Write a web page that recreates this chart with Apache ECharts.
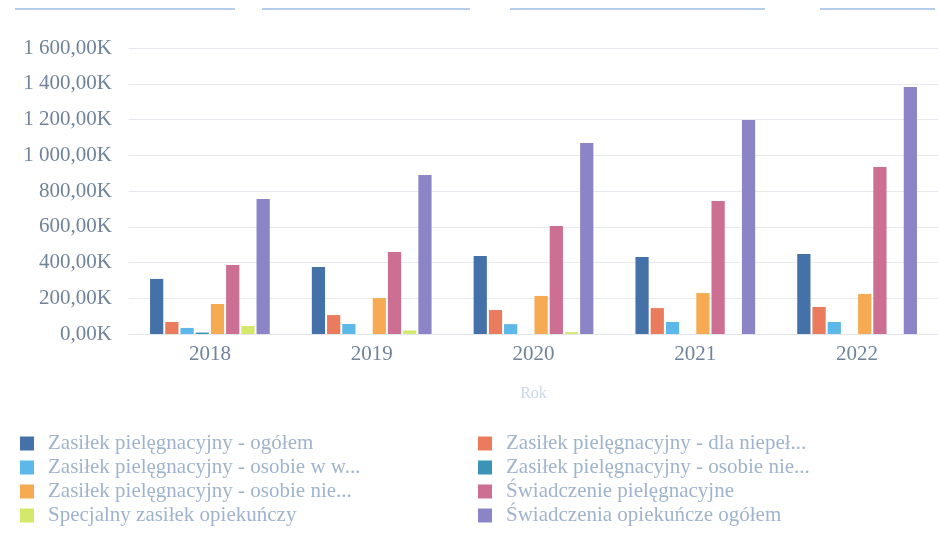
<!DOCTYPE html>
<html>
<head>
<meta charset="utf-8">
<script src="https://cdn.jsdelivr.net/npm/echarts@6/dist/echarts.min.js"></script>
<style>
  html, body { margin: 0; padding: 0; background: #fff; }
  #main { width: 938px; height: 548px; }
</style>
</head>
<body>
<div id="main"></div>
<script>
// lata
var years = ['2018', '2019', '2020', '2021', '2022'];

// nazwy serii (wartości w tysiącach)
var seriesNames = [
  'Zasiłek pielęgnacyjny - ogółem',
  'Zasiłek pielęgnacyjny - dla niepełnosprawnego dziecka',
  'Zasiłek pielęgnacyjny - osobie w wieku 75 lat',
  'Zasiłek pielęgnacyjny - osobie niepełnosprawnej do 21 lat',
  'Zasiłek pielęgnacyjny - osobie niepełnosprawnej powyżej 16 lat',
  'Świadczenie pielęgnacyjne',
  'Specjalny zasiłek opiekuńczy',
  'Świadczenia opiekuńcze ogółem'
];

var zpOgolem      = [308, 375, 436, 431, 448];
var zpDziecko     = [67, 106, 134, 145, 151];
var zp75          = [34, 56, 55, 67, 67];
var zpDo21        = [8, 0, 0, 0, 0];
var zpPowyzej16   = [168, 201, 213, 229, 224];
var swiadPiel     = [386, 459, 604, 744, 934];
var specZasilek   = [45, 20, 10, 0, 0];
var swiadOgolem   = [755, 890, 1069, 1197, 1382];

var seriesData = [zpOgolem, zpDziecko, zp75, zpDo21, zpPowyzej16, swiadPiel, specZasilek, swiadOgolem];
var colors = ['#4472a8', '#ea7b5c', '#5bb8e8', '#3b93b8', '#f6aa52', '#cc6f93', '#d4e86a', '#8b84c6'];

var font = '"Liberation Serif", serif';

function fmtK(v) {
  var s = v.toFixed(2).replace('.', ',');
  var parts = s.split(',');
  parts[0] = parts[0].replace(/\B(?=(\d{3})+(?!\d))/g, ' ');
  return parts[0] + ',' + parts[1] + 'K';
}

function legendCol(left, names) {
  return {
    orient: 'vertical',
    left: left,
    top: 433,
    padding: 0,
    itemGap: 3,
    itemWidth: 14,
    itemHeight: 14,
    icon: 'rect',
    textStyle: {
      fontFamily: font,
      fontSize: 21,
      color: '#9fb4cc',
      padding: [0, 0, 0, 9]
    },
    formatter: function (name) {
      return name.length > 34 ? name.slice(0, 34) + '...' : name;
    },
    data: names
  };
}

var myChart = echarts.init(document.getElementById('main'));
var option = {
  backgroundColor: '#fff',
  color: colors,
  textStyle: { fontFamily: font },
  graphic: [
    { type: 'line', shape: { x1: 15, y1: 9, x2: 235, y2: 9 }, style: { stroke: '#b4cdea', lineWidth: 2 } },
    { type: 'line', shape: { x1: 262, y1: 9, x2: 470, y2: 9 }, style: { stroke: '#b4cdea', lineWidth: 2 } },
    { type: 'line', shape: { x1: 510, y1: 9, x2: 765, y2: 9 }, style: { stroke: '#b4cdea', lineWidth: 2 } },
    { type: 'line', shape: { x1: 820, y1: 9, x2: 935, y2: 9 }, style: { stroke: '#b4cdea', lineWidth: 2 } }
  ],
  grid: {
    left: 129,
    right: 0,
    top: 48,
    bottom: 214
  },
  legend: [
    legendCol(20, [seriesNames[0], seriesNames[2], seriesNames[4], seriesNames[6]]),
    legendCol(478, [seriesNames[1], seriesNames[3], seriesNames[5], seriesNames[7]])
  ],
  xAxis: {
    type: 'category',
    data: years,
    name: 'Rok',
    nameLocation: 'middle',
    nameGap: 52,
    nameTextStyle: { color: '#c9d8e8', fontSize: 16, fontFamily: font },
    axisTick: { show: false },
    axisLine: { lineStyle: { color: '#e3e7ec' } },
    axisLabel: { color: '#6f839b', fontSize: 21, fontFamily: font, margin: 10 }
  },
  yAxis: {
    type: 'value',
    min: 0,
    max: 1600,
    interval: 200,
    axisLabel: {
      color: '#6f839b',
      fontSize: 21,
      fontFamily: font,
      margin: 17,
      formatter: fmtK
    },
    splitLine: { lineStyle: { color: '#e6e9ee' } }
  },
  series: seriesNames.map(function (n, i) {
    return {
      name: n,
      type: 'bar',
      barGap: '15%',
      barCategoryGap: '26%',
      data: seriesData[i]
    };
  })
};
window.onresize = myChart.resize;
myChart.setOption(option);
</script>
</body>
</html>
